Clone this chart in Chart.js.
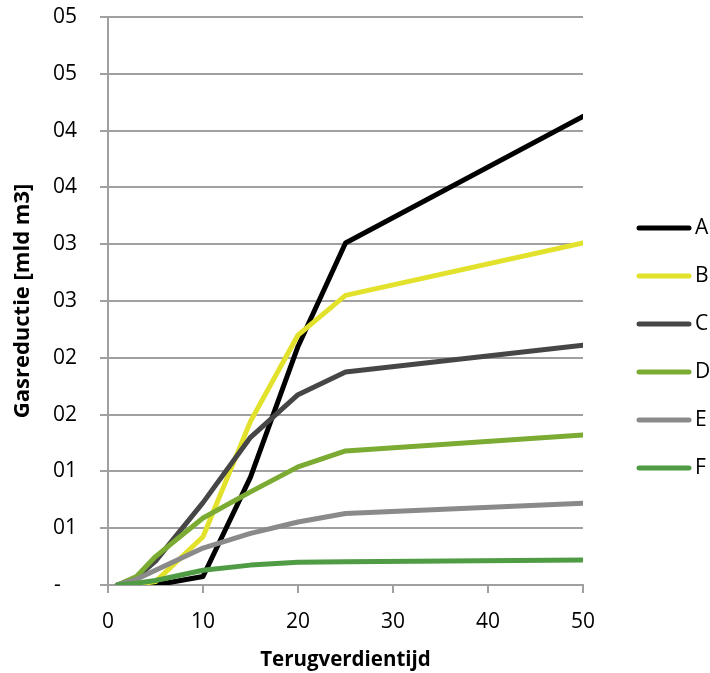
<!DOCTYPE html>
<html><head><meta charset="utf-8">
<script src="https://cdn.jsdelivr.net/npm/chart.js@4/dist/chart.umd.min.js"></script>
<style>html,body{margin:0;padding:0;background:#fff}#wrap{width:710px;height:673px}</style>
</head><body><div id="wrap"><canvas id="c" width="710" height="673"></canvas></div>
<script>
// ---- data ----
const seriesNames = ['A', 'B', 'C', 'D', 'E', 'F'];
const xValues = [1, 3, 5, 10, 15, 20, 25, 50];
const seriesA = [0, 0, 0, 0.15, 1.9, 4.2, 6.02, 8.25];
const seriesB = [0, 0.01, 0.06, 0.85, 2.88, 4.4, 5.1, 6.02];
const seriesC = [0, 0.13, 0.42, 1.45, 2.6, 3.35, 3.75, 4.22];
const seriesD = [0, 0.15, 0.5, 1.18, 1.64, 2.08, 2.36, 2.64];
const seriesE = [0, 0.1, 0.26, 0.65, 0.91, 1.11, 1.26, 1.44];
const seriesF = [0, 0.03, 0.08, 0.26, 0.35, 0.40, 0.41, 0.44];
const yTickLabels = ['-', '01', '01', '02', '02', '03', '03', '04', '04', '05', '05'];
const xTitle = 'Terugverdientijd';
const yTitle = 'Gasreductie [mld m3]';

// ---- styles ----
const colors = ['#000000', '#E2E22C', '#464646', '#7BAB32', '#8A8A8A', '#4F9C44'];
const FONT = "'Open Sans', sans-serif";
const GRID = '#a0a0a0';
const allSeries = [seriesA, seriesB, seriesC, seriesD, seriesE, seriesF];

function legendLine(color) {
  const c = document.createElement('canvas');
  c.width = 60; c.height = 10;
  const g = c.getContext('2d');
  g.strokeStyle = color; g.lineWidth = 5; g.lineCap = 'round';
  g.beginPath(); g.moveTo(5, 5); g.lineTo(55, 5); g.stroke();
  return c;
}

const datasets = seriesNames.map((name, i) => ({
  label: name,
  data: xValues.map((x, j) => ({ x: x, y: allSeries[i][j] })),
  borderColor: colors[i],
  backgroundColor: colors[i],
  borderWidth: 5,
  borderCapStyle: 'round',
  borderJoinStyle: 'round',
  pointRadius: 0,
  pointHoverRadius: 0,
  pointStyle: legendLine(colors[i]),
  tension: 0,
  fill: false,
  yAxisID: 'y',
  xAxisID: 'x',
  order: seriesNames.length - i
}));

new Chart(document.getElementById('c'), {
  type: 'line',
  data: { datasets: datasets },
  options: {
    responsive: false,
    animation: false,
    devicePixelRatio: 1,
    layout: { padding: { top: 17, right: 0, bottom: 0, left: 0 } },
    plugins: {
      tooltip: { enabled: false },
      legend: {
        position: 'right',
        align: 'center',
        maxWidth: 93.5,
        title: { display: true, text: '', font: { size: 5, lineHeight: 1.2 }, padding: 0 },
        labels: {
          usePointStyle: true,
          pointStyleWidth: 41,
          padding: 27,
          color: '#000',
          font: { family: FONT, size: 21 },
          sort: (a, b) => a.datasetIndex - b.datasetIndex
        }
      }
    },
    scales: {
      x: {
        type: 'linear', min: 0, max: 50,
        ticks: { stepSize: 10, color: '#000', font: { family: FONT, size: 21 }, padding: 16, maxRotation: 0 },
        grid: { display: true, drawOnChartArea: false, drawTicks: true, tickLength: 8, color: GRID, lineWidth: 2 },
        border: { display: true, color: GRID, width: 2 },
        title: { display: true, text: xTitle, color: '#000', font: { family: FONT, size: 20.5, weight: 'bold' }, padding: { top: 0, bottom: 1 } },
        afterFit(s) { s.height = 88; }
      },
      y: {
        type: 'linear', position: 'left', min: 0, max: 10,
        ticks: {
          stepSize: 1, color: '#000', font: { family: FONT, size: 21 }, padding: 23,
          callback: (v) => {
            const lab = yTickLabels[Math.round(v)];
            return lab === '-' ? lab + '\u00a0\u00a0\u00a0' : lab;
          }
        },
        grid: { color: GRID, lineWidth: 2, tickLength: 8 },
        border: { display: true, color: GRID, width: 2 },
        title: { display: true, text: yTitle, color: '#000', font: { family: FONT, size: 22, weight: 'bold' }, padding: { top: 9.5, bottom: 0 } },
        afterFit(s) { s.width = 108; s.paddingTop = 0; s.paddingBottom = 0; }
      },
      yRight: {
        axis: 'y', position: 'right', display: true,
        ticks: { display: false }, grid: { display: false }, border: { display: false },
        afterFit(s) { s.width = 33.5; }
      }
    }
  }
});
</script>
</body></html>
